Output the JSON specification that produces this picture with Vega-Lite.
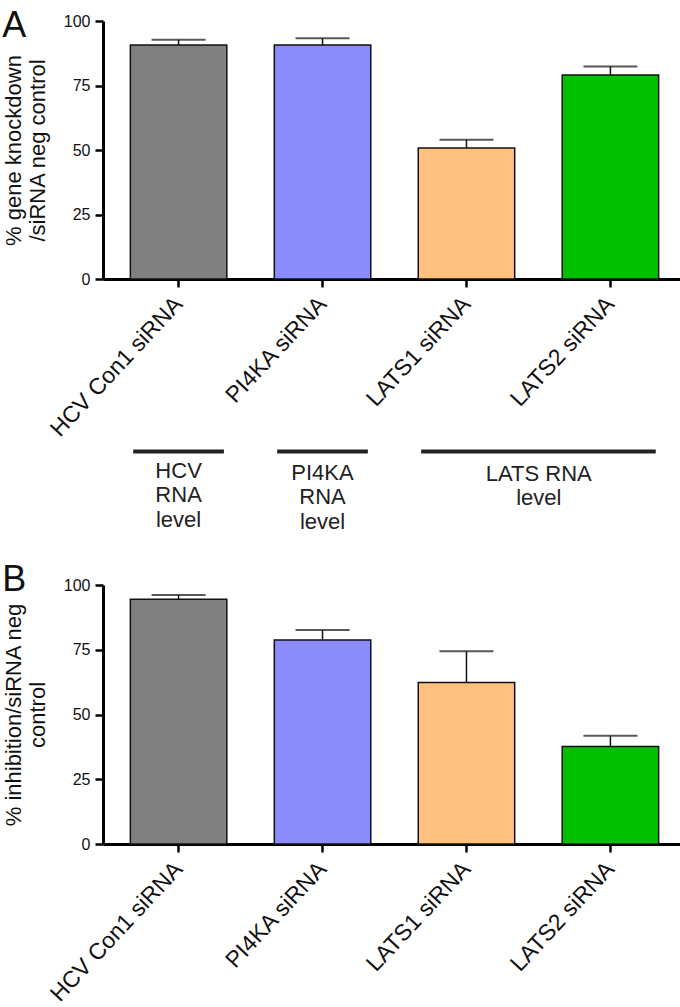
{
  "$schema": "https://vega.github.io/schema/vega-lite/v6.json",
  "padding": {"left": 2, "top": 8, "right": 0, "bottom": 0},
  "spacing": 28,
  "background": "white",
  "datasets": {
    "a": [
      {"cat": "HCV Con1 siRNA", "value": 90.7, "upper": 92.7},
      {"cat": "PI4KA siRNA", "value": 90.7, "upper": 93.3},
      {"cat": "LATS1 siRNA", "value": 50.8, "upper": 54.0},
      {"cat": "LATS2 siRNA", "value": 79.1, "upper": 82.4}
    ],
    "b": [
      {"cat": "HCV Con1 siRNA", "value": 94.5, "upper": 96.1},
      {"cat": "PI4KA siRNA", "value": 78.8, "upper": 82.6},
      {"cat": "LATS1 siRNA", "value": 62.4, "upper": 74.4},
      {"cat": "LATS2 siRNA", "value": 37.6, "upper": 41.8}
    ],
    "groups": [
      {"from": "HCV Con1 siRNA", "to": "HCV Con1 siRNA", "y": -66.9},
      {"from": "PI4KA siRNA", "to": "PI4KA siRNA", "y": -66.9},
      {"from": "LATS1 siRNA", "to": "LATS2 siRNA", "y": -66.9}
    ],
    "grouptext": [
      {"cat": "HCV Con1 siRNA", "text": "HCV", "y": -74.6},
      {"cat": "HCV Con1 siRNA", "text": "RNA", "y": -83.9},
      {"cat": "HCV Con1 siRNA", "text": "level", "y": -93.3},
      {"cat": "PI4KA siRNA", "text": "PI4KA", "y": -75.2},
      {"cat": "PI4KA siRNA", "text": "RNA", "y": -84.5},
      {"cat": "PI4KA siRNA", "text": "level", "y": -94.2}
    ],
    "latstext": [
      {"cat": "LATS1 siRNA", "text": "LATS RNA", "y": -75.6},
      {"cat": "LATS1 siRNA", "text": "level", "y": -84.9}
    ]
  },
  "config": {
    "font": "Liberation Sans",
    "view": {"stroke": null},
    "axis": {
      "grid": false,
      "domainColor": "#000",
      "domainWidth": 3,
      "tickColor": "#000",
      "tickWidth": 2.5,
      "tickSize": 8,
      "labelColor": "#111",
      "titleColor": "#111",
      "labelFont": "Liberation Sans",
      "titleFont": "Liberation Sans",
      "titleFontWeight": "normal"
    },
    "axisX": {"labelAngle": -47, "labelAlign": "right", "labelBaseline": "middle", "labelFontSize": 23, "labelPadding": 13, "labelLimit": 400},
    "axisY": {"labelFontSize": 16, "labelPadding": 5, "titleFontSize": 22, "titleLineHeight": 24, "titlePadding": 14},
    "title": {"fontSize": 36, "fontWeight": "normal", "font": "Liberation Sans", "anchor": "start", "frame": "bounds", "color": "#111"}
  },
  "vconcat": [
    {
      "width": 583,
      "height": 258,
      "title": {"text": "A", "offset": -32},
      "layer": [
        {
          "data": {"name": "a"},
          "mark": {"type": "bar", "stroke": "#111", "strokeWidth": 1.5},
          "encoding": {
            "x": {"field": "cat", "type": "nominal", "sort": null, "title": null,
                  "scale": {"domain": ["HCV Con1 siRNA", "PI4KA siRNA", "LATS1 siRNA", "LATS2 siRNA"], "paddingInner": 0.33, "paddingOuter": 0.19}},
            "y": {"field": "value", "type": "quantitative", "scale": {"domain": [0, 100]},
                  "axis": {"values": [0, 25, 50, 75, 100], "title": ["% gene knockdown", "/siRNA neg control"]}},
            "fill": {"field": "cat", "type": "nominal", "legend": null,
                     "scale": {"domain": ["HCV Con1 siRNA", "PI4KA siRNA", "LATS1 siRNA", "LATS2 siRNA"], "range": ["#808080", "#8c8cfc", "#ffc080", "#00c000"]}}
          }
        },
        {
          "data": {"name": "a"},
          "mark": {"type": "rule", "color": "#111", "strokeWidth": 1.5},
          "encoding": {
            "x": {"field": "cat", "type": "nominal"},
            "y": {"field": "value", "type": "quantitative"},
            "y2": {"field": "upper"}
          }
        },
        {
          "data": {"name": "a"},
          "mark": {"type": "tick", "color": "#111", "size": 54, "thickness": 2},
          "encoding": {
            "x": {"field": "cat", "type": "nominal"},
            "y": {"field": "upper", "type": "quantitative"}
          }
        },
        {
          "data": {"name": "groups"},
          "mark": {"type": "rule", "color": "#222", "strokeWidth": 4},
          "encoding": {
            "x": {"field": "from", "type": "nominal", "bandPosition": 0.03},
            "x2": {"field": "to", "bandPosition": 0.97},
            "y": {"field": "y", "type": "quantitative"}
          }
        },
        {
          "data": {"name": "grouptext"},
          "mark": {"type": "text", "fontSize": 22, "color": "#222", "baseline": "middle", "align": "center"},
          "encoding": {
            "x": {"field": "cat", "type": "nominal", "bandPosition": 0.5},
            "y": {"field": "y", "type": "quantitative"},
            "text": {"field": "text"}
          }
        },
        {
          "data": {"name": "latstext"},
          "mark": {"type": "text", "fontSize": 22, "color": "#222", "baseline": "middle", "align": "center"},
          "encoding": {
            "x": {"field": "cat", "type": "nominal", "bandPosition": 1.25},
            "y": {"field": "y", "type": "quantitative"},
            "text": {"field": "text"}
          }
        }
      ]
    },
    {
      "width": 583,
      "height": 259,
      "title": {"text": "B", "offset": -22},
      "data": {"name": "b"},
      "layer": [
        {
          "mark": {"type": "bar", "stroke": "#111", "strokeWidth": 1.5},
          "encoding": {
            "x": {"field": "cat", "type": "nominal", "sort": null, "title": null,
                  "scale": {"domain": ["HCV Con1 siRNA", "PI4KA siRNA", "LATS1 siRNA", "LATS2 siRNA"], "paddingInner": 0.33, "paddingOuter": 0.19}},
            "y": {"field": "value", "type": "quantitative", "scale": {"domain": [0, 100]},
                  "axis": {"values": [0, 25, 50, 75, 100], "title": ["% inhibition/siRNA neg", "control"]}},
            "fill": {"field": "cat", "type": "nominal", "legend": null,
                     "scale": {"domain": ["HCV Con1 siRNA", "PI4KA siRNA", "LATS1 siRNA", "LATS2 siRNA"], "range": ["#808080", "#8c8cfc", "#ffc080", "#00c000"]}}
          }
        },
        {
          "mark": {"type": "rule", "color": "#111", "strokeWidth": 1.5},
          "encoding": {
            "x": {"field": "cat", "type": "nominal"},
            "y": {"field": "value", "type": "quantitative"},
            "y2": {"field": "upper"}
          }
        },
        {
          "mark": {"type": "tick", "color": "#111", "size": 54, "thickness": 2},
          "encoding": {
            "x": {"field": "cat", "type": "nominal"},
            "y": {"field": "upper", "type": "quantitative"}
          }
        }
      ]
    }
  ]
}
